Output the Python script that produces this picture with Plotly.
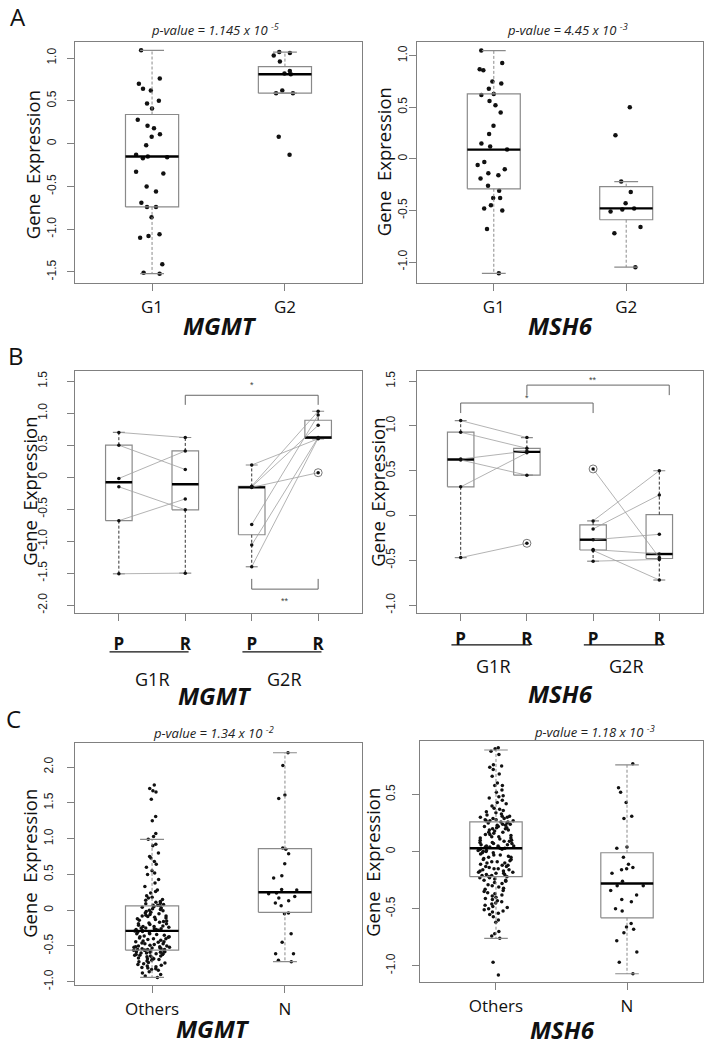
import plotly.graph_objects as go
from plotly.subplots import make_subplots

W, H = 709, 1048

# ---------------- data ----------------
# panel A
a_groups = ["G1", "G2"]
a_mgmt_g1 = [1.09, 0.76, 0.70, 0.64, 0.62, 0.50, 0.47, 0.41, 0.28, 0.21, 0.18, 0.11, 0.08, -0.02,
             -0.13, -0.15, -0.16, -0.17, -0.33, -0.35, -0.50, -0.56, -0.69, -0.74, -0.74, -0.86,
             -1.06, -1.08, -1.10, -1.41, -1.51, -1.52]
a_mgmt_g2 = [1.07, 1.06, 1.03, 0.96, 0.85, 0.82, 0.81, 0.62, 0.59, 0.59, 0.08, -0.13]
a_mgmt_g1_box = [-1.52, -0.74, -0.15, 0.34, 1.09]   # lower whisker, q1, median, q3, upper whisker
a_mgmt_g2_box = [0.59, 0.59, 0.81, 0.90, 1.07]
a_msh6_g1 = [1.05, 0.93, 0.87, 0.86, 0.75, 0.73, 0.68, 0.63, 0.62, 0.56, 0.52, 0.45, 0.32, 0.24,
             0.15, 0.12, 0.09, -0.03, -0.06, -0.10, -0.14, -0.16, -0.19, -0.26, -0.31, -0.38,
             -0.38, -0.45, -0.48, -0.50, -0.68, -1.11]
a_msh6_g2 = [0.50, 0.23, -0.22, -0.32, -0.43, -0.48, -0.49, -0.51, -0.66, -0.72, -1.05]
a_msh6_g1_box = [-1.11, -0.29, 0.09, 0.63, 1.05]
a_msh6_g2_box = [-1.05, -0.59, -0.48, -0.27, -0.22]
a_pvals = ["1.145 x 10 <sup>-5</sup>", "4.45 x 10 <sup>-3</sup>"]

# panel B (paired primary / recurrent)
b_groups = ["P", "R", "P", "R"]
b_mgmt_g1r_p = [0.70, 0.50, -0.02, -0.15, -0.68, -1.51]
b_mgmt_g1r_r = [0.62, 0.12, 0.41, -0.51, -0.34, -1.50]
b_mgmt_g2r_p = [0.19, -0.14, -0.15, -0.16, -0.74, -1.06, -1.40]
b_mgmt_g2r_r = [0.60, 1.03, 0.81, 0.07, 0.97, 0.62, 0.61]
b_mgmt_box = [[-1.51, -0.68, -0.08, 0.50, 0.70],
              [-1.50, -0.51, -0.11, 0.41, 0.62],
              [-1.40, -0.90, -0.16, -0.145, 0.19],
              [0.60, 0.605, 0.62, 0.89, 1.03]]
b_msh6_g1r_p = [1.06, 0.93, 0.63, 0.62, 0.32, -0.47]
b_msh6_g1r_r = [0.87, 0.75, 0.72, 0.45, 0.70, -0.31]
b_msh6_g2r_p = [0.52, -0.06, -0.15, -0.27, -0.38, -0.39, -0.51]
b_msh6_g2r_r = [-0.47, 0.50, 0.23, -0.21, -0.43, -0.72, -0.49]
b_msh6_box = [[-0.47, 0.32, 0.625, 0.93, 1.06],
              [0.45, 0.45, 0.71, 0.75, 0.87],
              [-0.51, -0.385, -0.27, -0.105, -0.06],
              [-0.72, -0.48, -0.43, 0.01, 0.50]]

# panel C
c_groups = ["Others", "N"]
c_mgmt_others = [1.75, 1.70, 1.67, 1.65, 1.55, 1.31, 1.25, 1.07, 1.03, 0.99, 0.92, 0.90, 0.80, 0.75,
                 0.73, 0.68, 0.64, 0.60, 0.55, 0.52, 0.50, 0.43, 0.38, 0.33, 0.28, 0.26, 0.24, 0.20,
                 0.18, 0.17, 0.15, 0.14, 0.12, 0.11, 0.10, 0.09, 0.08, 0.07, 0.07, 0.06,
                 0.05, 0.04, 0.03, 0.02, 0.01, 0.00, -0.01, -0.02, -0.03, -0.04, -0.05, -0.06, -0.07,
                 -0.08, -0.08, -0.09, -0.10, -0.11, -0.12, -0.13, -0.14, -0.15, -0.16, -0.17, -0.18,
                 -0.19, -0.19, -0.20, -0.21, -0.22, -0.23, -0.23, -0.24, -0.25, -0.25, -0.26, -0.26,
                 -0.27, -0.27, -0.28, -0.28, -0.29,
                 -0.30, -0.30, -0.31, -0.32, -0.33, -0.33, -0.34, -0.35, -0.36, -0.37, -0.37, -0.38,
                 -0.39, -0.40, -0.40, -0.41, -0.42, -0.43, -0.44, -0.44, -0.45, -0.46, -0.47, -0.47,
                 -0.48, -0.49, -0.50, -0.50, -0.51, -0.51, -0.52, -0.52, -0.53, -0.53, -0.54, -0.54,
                 -0.55, -0.55, -0.55, -0.56, -0.56, -0.56,
                 -0.57, -0.57, -0.58, -0.58, -0.59, -0.59, -0.60, -0.60, -0.61, -0.61, -0.62, -0.62,
                 -0.63, -0.63, -0.64, -0.64, -0.65, -0.66, -0.67, -0.68, -0.68, -0.69, -0.70, -0.71,
                 -0.72, -0.73, -0.74, -0.75, -0.76, -0.77, -0.78, -0.79, -0.80, -0.81, -0.82, -0.83,
                 -0.84, -0.86, -0.88, -0.90, -0.92, -0.94]
c_mgmt_n = [2.20, 2.02, 1.61, 1.56, 0.87, 0.85, 0.79, 0.65, 0.48, 0.45, 0.29, 0.28, 0.24, 0.23,
            0.19, 0.17, 0.13, 0.10, 0.06, -0.04, -0.05, -0.33, -0.45, -0.61, -0.61, -0.70, -0.72]
c_mgmt_others_box = [-0.94, -0.56, -0.29, 0.06, 0.99]
c_mgmt_n_box = [-0.72, -0.03, 0.25, 0.86, 2.20]
c_msh6_others = [0.91, 0.90, 0.88, 0.85, 0.76, 0.75, 0.74, 0.72, 0.68, 0.66, 0.60, 0.58, 0.58, 0.54,
                 0.52, 0.49, 0.48, 0.47, 0.45, 0.43, 0.42, 0.40, 0.38, 0.37, 0.36, 0.35, 0.34, 0.33,
                 0.32, 0.31, 0.31, 0.30, 0.30, 0.29, 0.29, 0.28, 0.28, 0.27, 0.27, 0.27, 0.26, 0.26,
                 0.25, 0.25, 0.24, 0.24, 0.23, 0.23, 0.22, 0.22, 0.21, 0.21, 0.20, 0.20, 0.19, 0.19,
                 0.18, 0.17, 0.17, 0.16, 0.15, 0.15, 0.14, 0.13, 0.13, 0.12, 0.12, 0.11, 0.10, 0.10,
                 0.09, 0.09, 0.08, 0.08, 0.07, 0.07, 0.06, 0.06, 0.05, 0.05, 0.05, 0.04, 0.04, 0.04,
                 0.03, 0.03, 0.02, 0.02, 0.01, 0.01, 0.00, 0.00, -0.01, -0.01, -0.02, -0.03, -0.03,
                 -0.04, -0.05, -0.05, -0.06, -0.07, -0.07, -0.08, -0.09, -0.09, -0.10, -0.10, -0.11,
                 -0.12, -0.12, -0.13, -0.13, -0.14, -0.15, -0.15, -0.16, -0.16, -0.17, -0.17, -0.18,
                 -0.18, -0.19, -0.19, -0.20, -0.20, -0.21, -0.21, -0.22, -0.22,
                 -0.23, -0.23, -0.24, -0.25, -0.25, -0.26, -0.27, -0.28, -0.29, -0.30, -0.31, -0.32,
                 -0.33, -0.34, -0.35, -0.36, -0.37, -0.38, -0.39, -0.40, -0.41, -0.42, -0.43, -0.44,
                 -0.45, -0.46, -0.47, -0.48, -0.49, -0.50, -0.51, -0.52, -0.53, -0.54, -0.55, -0.57,
                 -0.60, -0.62, -0.70, -0.72, -0.74, -0.76, -0.97, -1.08]
c_msh6_n = [0.77, 0.56, 0.52, 0.43, 0.31, 0.29, 0.04, 0.03, -0.05, -0.11, -0.14, -0.15, -0.16,
            -0.19, -0.26, -0.30, -0.30, -0.34, -0.38, -0.42, -0.44, -0.50, -0.52, -0.63, -0.66,
            -0.68, -0.71, -0.78, -0.88, -0.97, -1.07]
c_msh6_others_box = [-0.76, -0.22, 0.03, 0.26, 0.89]
c_msh6_n_box = [-1.07, -0.58, -0.28, -0.01, 0.76]
c_pvals = ["1.34 x 10 <sup>-2</sup>", "1.18 x 10 <sup>-3</sup>"]

yt_a_mgmt = [-1.5, -1.0, -0.5, 0, 0.5, 1.0]
yt_a_msh6 = [-1.0, -0.5, 0, 0.5, 1.0]
yt_b_mgmt = [-2.0, -1.5, -1.0, -0.5, 0, 0.5, 1.0, 1.5]
yt_b_msh6 = [-1.0, -0.5, 0, 0.5, 1.0, 1.5]
yt_c_mgmt = [-1.0, -0.5, 0, 0.5, 1.0, 1.5, 2.0]
yt_c_msh6 = [-1.0, -0.5, 0, 0.5]

# ---------------- styling ----------------
FRAME = "#808080"
BOXC = "#8a8a8a"
FONT = "Open Sans"
TICKFONT = "Liberation Sans"


def fmt(v):
    return "0" if v == 0 else f"{v:.1f}"


fig = make_subplots(rows=3, cols=2)


def add_box(st, pos, row, col, wcol, hw=0.2, cap=0.09):
    # box outline, dashed whiskers, caps and a heavy median, R boxplot style
    lo, q1, med, q3, hi = st
    kw = dict(mode="lines", hoverinfo="skip", showlegend=False)
    fig.add_trace(go.Scatter(x=[pos - hw, pos + hw, pos + hw, pos - hw, pos - hw],
                             y=[q1, q1, q3, q3, q1],
                             line=dict(color=BOXC, width=1.2), **kw), row=row, col=col)
    fig.add_trace(go.Scatter(x=[pos, pos, None, pos, pos], y=[q3, hi, None, q1, lo],
                             line=dict(color=wcol, width=1, dash="3px,2px"), **kw), row=row, col=col)
    fig.add_trace(go.Scatter(x=[pos - cap, pos + cap, None, pos - cap, pos + cap],
                             y=[hi, hi, None, lo, lo], line=dict(color=BOXC, width=1.2), **kw),
                  row=row, col=col)
    fig.add_trace(go.Scatter(x=[pos - hw, pos + hw], y=[med, med],
                             line=dict(color="black", width=2.4), **kw), row=row, col=col)


def add_points(vals, pos, row, col, size):
    # invisible box trace, used only for plotly's own jittered strip of points
    fig.add_trace(go.Box(y=vals, x=[pos] * len(vals), boxpoints="all", jitter=0.7, pointpos=0,
                         width=0.4, fillcolor="rgba(0,0,0,0)",
                         line=dict(width=0, color="rgba(0,0,0,0)"),
                         marker=dict(color="#111111", size=size), showlegend=False,
                         hoverinfo="y"), row=row, col=col)


def add_pairs(p, r, x0, row, col):
    xs, ys = [], []
    for a, b in zip(p, r):
        xs += [x0, x0 + 1, None]
        ys += [a, b, None]
    fig.add_trace(go.Scatter(x=xs, y=ys, mode="lines", line=dict(color="#a0a0a0", width=0.8),
                             hoverinfo="skip", showlegend=False), row=row, col=col)


def add_pair_points(vals, pos, st, row, col):
    fig.add_trace(go.Scatter(x=[pos] * len(vals), y=vals, mode="markers",
                             marker=dict(color="#111111", size=3.5), showlegend=False),
                  row=row, col=col)
    outl = [v for v in vals if v < st[0] - 1e-9 or v > st[4] + 1e-9]
    if outl:
        fig.add_trace(go.Scatter(x=[pos] * len(outl), y=outl, mode="markers",
                                 marker=dict(symbol="circle-open", color="#777777", size=8,
                                             line=dict(width=1)),
                                 showlegend=False, hoverinfo="skip"), row=row, col=col)


# panel A
for i, (vals, st) in enumerate([(a_mgmt_g1, a_mgmt_g1_box), (a_mgmt_g2, a_mgmt_g2_box)]):
    add_box(st, i + 1, 1, 1, BOXC)
    add_points(vals, i + 1, 1, 1, 4.5)
for i, (vals, st) in enumerate([(a_msh6_g1, a_msh6_g1_box), (a_msh6_g2, a_msh6_g2_box)]):
    add_box(st, i + 1, 1, 2, BOXC)
    add_points(vals, i + 1, 1, 2, 4.5)

# panel B
for col, groups, boxes in [(1, [b_mgmt_g1r_p, b_mgmt_g1r_r, b_mgmt_g2r_p, b_mgmt_g2r_r], b_mgmt_box),
                           (2, [b_msh6_g1r_p, b_msh6_g1r_r, b_msh6_g2r_p, b_msh6_g2r_r], b_msh6_box)]:
    for i, st in enumerate(boxes):
        add_box(st, i + 1, 2, col, "#333333")
    add_pairs(groups[0], groups[1], 1, 2, col)
    add_pairs(groups[2], groups[3], 3, 2, col)
    for i, vals in enumerate(groups):
        add_pair_points(vals, i + 1, boxes[i], 2, col)

# panel C
for i, (vals, st) in enumerate([(c_mgmt_others, c_mgmt_others_box), (c_mgmt_n, c_mgmt_n_box)]):
    add_box(st, i + 1, 3, 1, BOXC)
    add_points(vals, i + 1, 3, 1, 3.5)
for i, (vals, st) in enumerate([(c_msh6_others, c_msh6_others_box), (c_msh6_n, c_msh6_n_box)]):
    add_box(st, i + 1, 3, 2, BOXC)
    add_points(vals, i + 1, 3, 2, 3.5)

# ---------------- axes ----------------
panels = [
    # row, col, x px, y px, xrange, yrange, yticks, xlabels, ylabel standoff, xlabel standoff
    (1, 1, (75, 362), (42, 284), [0.42, 2.58], [-1.625, 1.19], yt_a_mgmt, a_groups, 6, 2),
    (1, 2, (417, 703), (42, 284), [0.42, 2.58], [-1.20, 1.135], yt_a_msh6, a_groups, -3, 2),
    (2, 1, (75, 362), (373, 616), [0.34, 4.66], [-2.124, 1.656], yt_b_mgmt, b_groups, 15, 8),
    (2, 2, (417, 703), (373, 616), [0.34, 4.66], [-1.089, 1.611], yt_b_msh6, b_groups, 9, 3),
    (3, 1, (75, 362), (747, 990), [0.42, 2.58], [-1.05, 2.33], yt_c_mgmt, c_groups, 9, 1),
    (3, 2, (420, 703), (745, 987), [0.42, 2.58], [-1.145, 0.965], yt_c_msh6, c_groups, 12, 1),
]
for row, col, xp, yp, xr, yr, yt, xl, ygap, xstand in panels:
    xt = [f"<b>{t}</b>" for t in xl] if row == 2 else xl
    fig.update_xaxes(domain=[xp[0] / W, xp[1] / W], range=xr, tickvals=list(range(1, len(xl) + 1)),
                     ticktext=xt, showline=True, mirror=True, linecolor=FRAME, linewidth=1.2,
                     ticks="outside", ticklen=7, tickcolor=FRAME, showgrid=False, zeroline=False,
                     tickfont=dict(family=FONT, size=17, color="#111111"),
                     ticklabelstandoff=xstand, row=row, col=col)
    fig.update_yaxes(domain=[1 - yp[1] / H, 1 - yp[0] / H], range=yr, tickvals=yt,
                     ticktext=[fmt(v) for v in yt], tickangle=-90, showline=True, mirror=True,
                     linecolor=FRAME, linewidth=1.2, ticks="outside", ticklen=7, tickcolor=FRAME,
                     showgrid=False, zeroline=False,
                     tickfont=dict(family=TICKFONT, size=12, color="#222222"),
                     ticklabelstandoff=ygap, row=row, col=col)

# ---------------- annotations ----------------
ann = []


def txt(x, y, s, size, **kw):
    d = dict(x=x / W, y=1 - y / H, xref="paper", yref="paper", text=s, showarrow=False,
             xanchor="center", yanchor="middle",
             font=dict(family=FONT, size=size, color="#111111"))
    d.update(kw)
    ann.append(d)


txt(18, 17, "A", 24)
txt(16, 357, "B", 24)
txt(13, 722, "C", 24)

for (xc, yc), p in zip([(215, 30), (567, 30)], a_pvals):
    txt(xc, yc, f"<i>p-value = {p}</i>", 13, font=dict(family=FONT, size=13, color="#222222"))
for (xc, yc), p in zip([(214, 736), (594, 735)], c_pvals):
    txt(xc, yc, f"<i>p-value = {p}</i>", 13, font=dict(family=FONT, size=13, color="#222222"))

for xc, yc in [(32, 166), (383, 163), (30, 494), (378, 494), (30, 868), (373, 866)]:
    txt(xc, yc, "Gene  Expression", 18.5, textangle=-90)

for (xc, yc), g in zip([(220, 327), (560, 327), (215, 699), (560, 697), (213, 1033), (562, 1034)],
                       ["MGMT", "MSH6"] * 3):
    txt(xc, yc, f"<b><i>{g}</i></b>", 24)

shapes = []
# group labels under panel B
for axn, ylab, yline in [("x3", 682, 655), ("x4", 669, 648)]:
    for p0, lab in [(1, "G1R"), (3, "G2R")]:
        ann.append(dict(x=p0 + 0.5, y=1 - ylab / H, xref=axn, yref="paper", text=lab,
                        showarrow=False, xanchor="center", yanchor="middle",
                        font=dict(family=FONT, size=18, color="#111111")))
        shapes.append(dict(type="line", xref=axn, yref="paper", x0=p0 - 0.14, x1=p0 + 1.05,
                           y0=1 - yline / H, y1=1 - yline / H, line=dict(color="#111111", width=1.2)))

# significance brackets
brackets = [
    ("x3", "y3", 2, 4, 1.28, 1.13, "*", 3, 1.44),
    ("x3", "y3", 3, 4, -1.75, -1.59, "**", 3.5, -1.93),
    ("x4", "y4", 1, 3, 1.256, 1.144, "*", 2, 1.31),
    ("x4", "y4", 2, 4.15, 1.456, 1.344, "**", 3, 1.51),
]
for xa, ya, x0, x1, yb, yd, lab, lx, ly in brackets:
    shapes.append(dict(type="path", xref=xa, yref=ya,
                       path=f"M {x0},{yd} L {x0},{yb} L {x1},{yb} L {x1},{yd}",
                       line=dict(color="#666666", width=1)))
    ann.append(dict(x=lx, y=ly, xref=xa, yref=ya, text=lab, showarrow=False,
                    xanchor="center", yanchor="middle",
                    font=dict(family=TICKFONT, size=9, color="#444444")))

fig.update_layout(width=W, height=H, margin=dict(l=0, r=0, t=0, b=0), plot_bgcolor="white",
                  paper_bgcolor="white", showlegend=False, annotations=ann, shapes=shapes,
                  boxmode="overlay")

# the page body has a default 8px margin; drop it so the figure sits at the window corner
fig.write_html("out.html", config={"displayModeBar": False},
               post_script="document.body.style.margin='0px';")
